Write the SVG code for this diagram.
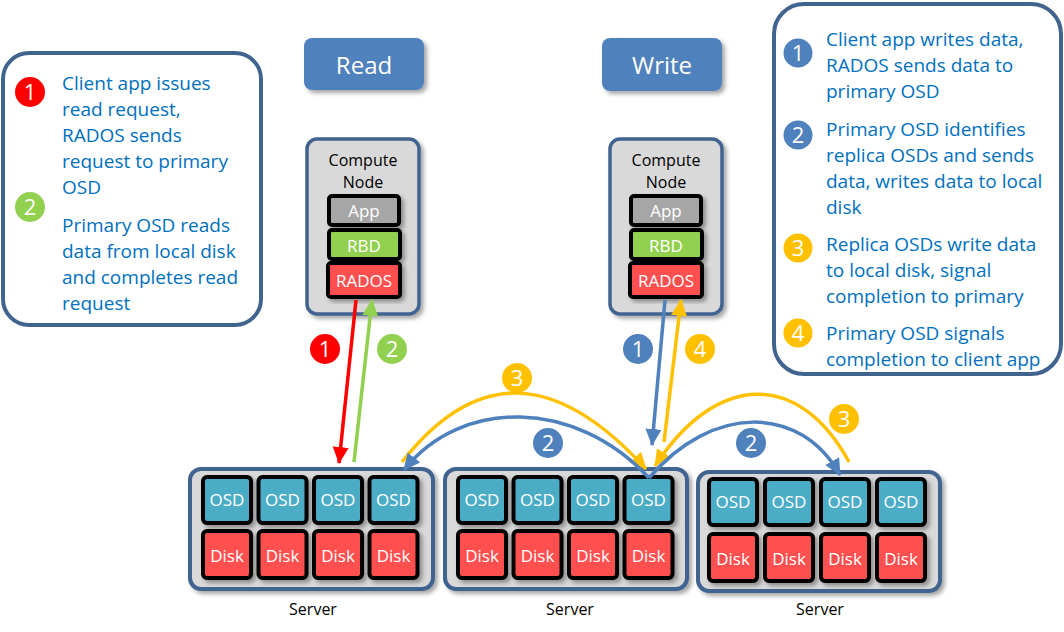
<svg xmlns="http://www.w3.org/2000/svg" width="1064" height="632" viewBox="0 0 1064 632">
<defs>
<filter id="sh" x="-20%" y="-20%" width="140%" height="140%">
<feDropShadow dx="3" dy="3" stdDeviation="2" flood-color="#000" flood-opacity="0.35"/>
</filter>
<marker id="aR" markerUnits="userSpaceOnUse" markerWidth="18" markerHeight="18" refX="16" refY="8" orient="auto"><path d="M0,0 L17,8 L0,16 z" fill="#ff0000"/></marker>
<marker id="aG" markerUnits="userSpaceOnUse" markerWidth="18" markerHeight="18" refX="16" refY="8" orient="auto"><path d="M0,0 L17,8 L0,16 z" fill="#92d050"/></marker>
<marker id="aB" markerUnits="userSpaceOnUse" markerWidth="18" markerHeight="18" refX="16" refY="8" orient="auto"><path d="M0,0 L17,8 L0,16 z" fill="#4f81bd"/></marker>
<marker id="aY" markerUnits="userSpaceOnUse" markerWidth="18" markerHeight="18" refX="16" refY="8" orient="auto"><path d="M0,0 L17,8 L0,16 z" fill="#ffc000"/></marker>
</defs>
<style>
text{font-family:"Open Sans","Liberation Sans",sans-serif}
.leg{fill:#fff;stroke:#41648f;stroke-width:4}
.lt{fill:#0070c0;font-size:19px}
.num{fill:#fff;font-size:22px;text-anchor:middle}
.btn{fill:#4f81bd}
.btxt{fill:#fff;font-size:24px;text-anchor:middle}
.cn{fill:#d9d9d9;stroke:#41648f;stroke-width:3.5}
.ctxt{fill:#000;font-size:16px;text-anchor:middle}
.blk{stroke:#000;stroke-width:4}
.app{fill:#a6a6a6}
.rbd{fill:#92d050}
.rad{fill:#ff5050}
.osd{fill:#4bacc6}
.disk{fill:#ff5050}
.wt{fill:#fff;font-size:17px;text-anchor:middle}
.srv{fill:#d9d9d9;stroke:#41648f;stroke-width:4}
.stxt{fill:#000;font-size:16px;text-anchor:middle}
.ln{fill:none;stroke-width:3.5}
</style>
<rect width="1064" height="632" fill="#fff"/>

<g id="legend-read">
<rect class="leg" x="3" y="53" width="258" height="272" rx="26"/>
<circle cx="30" cy="92" r="15" fill="#ff0000"/><text class="num" x="30" y="100">1</text>
<circle cx="30" cy="207" r="15" fill="#92d050"/><text class="num" x="30" y="215">2</text>
<text class="lt" x="62" y="90">Client app issues</text>
<text class="lt" x="62" y="116">read request,</text>
<text class="lt" x="62" y="142">RADOS sends</text>
<text class="lt" x="62" y="168">request to primary</text>
<text class="lt" x="62" y="194">OSD</text>
<text class="lt" x="62" y="232">Primary OSD reads</text>
<text class="lt" x="62" y="258">data from local disk</text>
<text class="lt" x="62" y="284">and completes read</text>
<text class="lt" x="62" y="310">request</text>
</g>

<g id="legend-write">
<rect class="leg" x="774" y="4" width="287" height="370" rx="30"/>
<circle cx="798" cy="53" r="14.5" fill="#4f81bd"/><text class="num" x="798" y="61">1</text>
<circle cx="798" cy="135" r="14.5" fill="#4f81bd"/><text class="num" x="798" y="143">2</text>
<circle cx="798" cy="248" r="14.5" fill="#ffc000"/><text class="num" x="798" y="256">3</text>
<circle cx="798" cy="333" r="14.5" fill="#ffc000"/><text class="num" x="798" y="341">4</text>
<text class="lt" x="826" y="46">Client app writes data,</text>
<text class="lt" x="826" y="72">RADOS sends data to</text>
<text class="lt" x="826" y="98">primary OSD</text>
<text class="lt" x="826" y="136">Primary OSD identifies</text>
<text class="lt" x="826" y="162">replica OSDs and sends</text>
<text class="lt" x="826" y="188">data, writes data to local</text>
<text class="lt" x="826" y="214">disk</text>
<text class="lt" x="826" y="251">Replica OSDs write data</text>
<text class="lt" x="826" y="277">to local disk, signal</text>
<text class="lt" x="826" y="303">completion to primary</text>
<text class="lt" x="826" y="340">Primary OSD signals</text>
<text class="lt" x="826" y="366">completion to client app</text>
</g>

<g id="btn-read">
<rect class="btn" x="304" y="38" width="120" height="52" rx="8" filter="url(#sh)"/>
<text class="btxt" x="364" y="74">Read</text>
</g>
<g id="btn-write">
<rect class="btn" x="602" y="38" width="120" height="53" rx="8" filter="url(#sh)"/>
<text class="btxt" x="662" y="74">Write</text>
</g>

<g id="compute-read">
<rect class="cn" x="307" y="139" width="112" height="175" rx="10" filter="url(#sh)"/>
<text class="ctxt" x="363" y="166">Compute</text>
<text class="ctxt" x="363" y="188">Node</text>
<rect class="blk app" x="329" y="196" width="70" height="29" rx="3" filter="url(#sh)"/>
<text class="wt" x="364" y="217">App</text>
<rect class="blk rbd" x="329" y="230" width="71" height="29" rx="3" filter="url(#sh)"/>
<text class="wt" x="364" y="252">RBD</text>
<rect class="blk rad" x="328" y="263" width="72" height="34" rx="3" filter="url(#sh)"/>
<text class="wt" x="364" y="287">RADOS</text>
</g>

<g id="compute-write">
<rect class="cn" x="610" y="139" width="112" height="175" rx="10" filter="url(#sh)"/>
<text class="ctxt" x="666" y="166">Compute</text>
<text class="ctxt" x="666" y="188">Node</text>
<rect class="blk app" x="631" y="196" width="70" height="29" rx="3" filter="url(#sh)"/>
<text class="wt" x="666" y="217">App</text>
<rect class="blk rbd" x="631" y="230" width="71" height="29" rx="3" filter="url(#sh)"/>
<text class="wt" x="666" y="252">RBD</text>
<rect class="blk rad" x="630" y="263" width="72" height="34" rx="3" filter="url(#sh)"/>
<text class="wt" x="666" y="287">RADOS</text>
</g>

<g id="server-1">
<rect class="srv" x="190" y="469" width="243" height="120" rx="11" filter="url(#sh)"/>
<g filter="url(#sh)">
<rect class="blk osd" x="203" y="477" width="48" height="46" rx="4"/>
<rect class="blk osd" x="258.5" y="477" width="48" height="46" rx="4"/>
<rect class="blk osd" x="314" y="477" width="48" height="46" rx="4"/>
<rect class="blk osd" x="369.5" y="477" width="48" height="46" rx="4"/>
<rect class="blk disk" x="203" y="531" width="48" height="47" rx="4"/>
<rect class="blk disk" x="258.5" y="531" width="48" height="47" rx="4"/>
<rect class="blk disk" x="314" y="531" width="48" height="47" rx="4"/>
<rect class="blk disk" x="369.5" y="531" width="48" height="47" rx="4"/>
</g>
<text class="wt" x="227" y="506">OSD</text><text class="wt" x="282.5" y="506">OSD</text><text class="wt" x="338" y="506">OSD</text><text class="wt" x="393.5" y="506">OSD</text>
<text class="wt" x="227" y="562">Disk</text><text class="wt" x="282.5" y="562">Disk</text><text class="wt" x="338" y="562">Disk</text><text class="wt" x="393.5" y="562">Disk</text>
<text class="stxt" x="313" y="615">Server</text>
</g>

<g id="server-2">
<rect class="srv" x="445" y="469" width="242" height="120" rx="11" filter="url(#sh)"/>
<g filter="url(#sh)">
<rect class="blk osd" x="458" y="477" width="48" height="46" rx="4"/>
<rect class="blk osd" x="513.5" y="477" width="48" height="46" rx="4"/>
<rect class="blk osd" x="569" y="477" width="48" height="46" rx="4"/>
<rect class="blk osd" x="624.5" y="477" width="48" height="46" rx="4"/>
<rect class="blk disk" x="458" y="531" width="48" height="47" rx="4"/>
<rect class="blk disk" x="513.5" y="531" width="48" height="47" rx="4"/>
<rect class="blk disk" x="569" y="531" width="48" height="47" rx="4"/>
<rect class="blk disk" x="624.5" y="531" width="48" height="47" rx="4"/>
</g>
<text class="wt" x="482" y="506">OSD</text><text class="wt" x="537.5" y="506">OSD</text><text class="wt" x="593" y="506">OSD</text><text class="wt" x="648.5" y="506">OSD</text>
<text class="wt" x="482" y="562">Disk</text><text class="wt" x="537.5" y="562">Disk</text><text class="wt" x="593" y="562">Disk</text><text class="wt" x="648.5" y="562">Disk</text>
<text class="stxt" x="570" y="615">Server</text>
</g>

<g id="server-3">
<rect class="srv" x="698" y="472" width="242" height="119" rx="11" filter="url(#sh)"/>
<g filter="url(#sh)">
<rect class="blk osd" x="709" y="479" width="48" height="46" rx="4"/>
<rect class="blk osd" x="765" y="479" width="48" height="46" rx="4"/>
<rect class="blk osd" x="821" y="479" width="48" height="46" rx="4"/>
<rect class="blk osd" x="877" y="479" width="48" height="46" rx="4"/>
<rect class="blk disk" x="709" y="534" width="48" height="47" rx="4"/>
<rect class="blk disk" x="765" y="534" width="48" height="47" rx="4"/>
<rect class="blk disk" x="821" y="534" width="48" height="47" rx="4"/>
<rect class="blk disk" x="877" y="534" width="48" height="47" rx="4"/>
</g>
<text class="wt" x="733" y="508">OSD</text><text class="wt" x="789" y="508">OSD</text><text class="wt" x="845" y="508">OSD</text><text class="wt" x="901" y="508">OSD</text>
<text class="wt" x="733" y="565">Disk</text><text class="wt" x="789" y="565">Disk</text><text class="wt" x="845" y="565">Disk</text><text class="wt" x="901" y="565">Disk</text>
<text class="stxt" x="820" y="615">Server</text>
</g>

<g id="connectors">
<path class="ln" stroke="#ff0000" d="M356,300 L339,463" marker-end="url(#aR)"/>
<path class="ln" stroke="#92d050" d="M354,462 L372,300" marker-end="url(#aG)"/>
<path class="ln" stroke="#4f81bd" d="M665,300 L652,445" marker-end="url(#aB)"/>
<path class="ln" stroke="#ffc000" d="M664,442 L681,300" marker-end="url(#aY)"/>
<path class="ln" stroke="#ffc000" d="M402,462 C475,369 555,369 646,469" marker-end="url(#aY)"/>
<path class="ln" stroke="#4f81bd" d="M649,478 C575,398 461,398 404,470" marker-end="url(#aB)"/>
<path class="ln" stroke="#ffc000" d="M849,462 C800,371 717,371 655,466" marker-end="url(#aY)"/>
<path class="ln" stroke="#4f81bd" d="M649,478 C712,404 800,404 840,475" marker-end="url(#aB)"/>
</g>

<g id="labels">
<circle cx="325" cy="349" r="15" fill="#ff0000"/><text class="num" x="325" y="357">1</text>
<circle cx="392" cy="349" r="15" fill="#92d050"/><text class="num" x="392" y="357">2</text>
<circle cx="638" cy="349" r="15" fill="#4f81bd"/><text class="num" x="638" y="357">1</text>
<circle cx="700" cy="349" r="15" fill="#ffc000"/><text class="num" x="700" y="357">4</text>
<circle cx="517" cy="378" r="15" fill="#ffc000"/><text class="num" x="517" y="386">3</text>
<circle cx="548" cy="443" r="15" fill="#4f81bd"/><text class="num" x="548" y="451">2</text>
<circle cx="751" cy="443" r="15" fill="#4f81bd"/><text class="num" x="751" y="451">2</text>
<circle cx="844" cy="419" r="15" fill="#ffc000"/><text class="num" x="844" y="427">3</text>
</g>
</svg>
